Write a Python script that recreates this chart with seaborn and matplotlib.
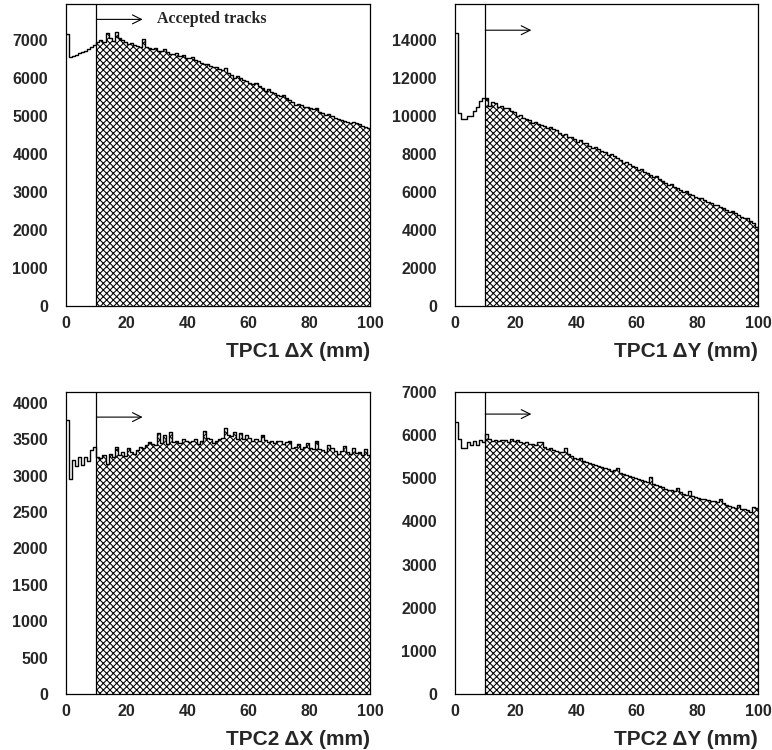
import numpy as np
import pandas as pd
import matplotlib
matplotlib.use("Agg")
import matplotlib.pyplot as plt
import seaborn as sns

# ---------------- data (counts per 1 mm bin, 0..100 mm) ----------------
bin_edges = list(range(0, 101))
cut_mm = 10

tpc1_dx = [7150, 6560, 6580, 6620, 6660, 6680, 6720, 6760, 6820, 6880,
           6940, 6990, 6950, 7180, 7060, 6980, 7220, 7050, 7000, 6960,
           6900, 6920, 6880, 6850, 6830, 7030, 6820, 6780, 6760, 6800,
           6700, 6710, 6760, 6680, 6640, 6630, 6660, 6590, 6620, 6520,
           6540, 6560, 6480, 6460, 6400, 6360, 6380, 6330, 6300, 6280,
           6230, 6210, 6260, 6130, 6080, 6010, 6050, 5990, 5960, 5920,
           5880, 5850, 5860, 5800, 5740, 5660, 5700, 5640, 5600, 5560,
           5520, 5560, 5480, 5420, 5380, 5300, 5330, 5280, 5250, 5230,
           5210, 5180, 5200, 5120, 5080, 5030, 5050, 4990, 4960, 4930,
           4900, 4880, 4850, 4830, 4850, 4810, 4780, 4750, 4720, 4680]

tpc1_dy = [14350, 10150, 9850, 9860, 10000, 10000, 10260, 10500, 10800, 10950,
           10950, 10550, 10750, 10700, 10500, 10550, 10400, 10400, 10250, 10200,
           9980, 10050, 9900, 9850, 9780, 9630, 9700, 9560, 9520, 9480,
           9370, 9420, 9300, 9250, 9100, 9010, 9050, 8900, 8880, 8800,
           8660, 8720, 8600, 8560, 8450, 8310, 8350, 8250, 8180, 8100,
           7960, 8000, 7880, 7800, 7700, 7520, 7580, 7450, 7380, 7300,
           7160, 7200, 7080, 7000, 6900, 6810, 6850, 6700, 6600, 6500,
           6370, 6400, 6280, 6200, 6100, 6020, 6050, 5920, 5850, 5750,
           5670, 5700, 5580, 5500, 5400, 5310, 5320, 5200, 5150, 5050,
           4960, 4980, 4880, 4800, 4700, 4610, 4620, 4450, 4350, 4150]

tpc2_dx = [3760, 2960, 3220, 3130, 3250, 3150, 3260, 3200, 3350, 3400,
           3260, 3240, 3290, 3160, 3300, 3250, 3400, 3280, 3330, 3270,
           3380, 3330, 3300, 3350, 3400, 3380, 3420, 3460, 3440, 3420,
           3580, 3450, 3560, 3430, 3600, 3460, 3480, 3450, 3500, 3470,
           3460, 3480, 3500, 3440, 3480, 3620, 3520, 3500, 3450, 3480,
           3500, 3520, 3660, 3560, 3540, 3600, 3510, 3580, 3500, 3560,
           3520, 3470, 3500, 3480, 3560, 3490, 3460, 3480, 3450, 3470,
           3470, 3440, 3460, 3470, 3380, 3400, 3440, 3370, 3400, 3450,
           3380, 3360, 3480, 3370, 3350, 3330, 3420, 3380, 3340, 3300,
           3340, 3410, 3330, 3300, 3380, 3310, 3320, 3290, 3360, 3290]

tpc2_dy = [6300, 5920, 5700, 5700, 5830, 5780, 5870, 5760, 5890, 5830,
           6020, 5900, 5870, 5880, 5860, 5890, 5880, 5840, 5900, 5860,
           5880, 5840, 5820, 5840, 5790, 5790, 5760, 5850, 5830, 5730,
           5680, 5700, 5660, 5640, 5620, 5600, 5700, 5560, 5520, 5480,
           5440, 5470, 5400, 5380, 5350, 5330, 5300, 5280, 5260, 5230,
           5210, 5180, 5200, 5240, 5130, 5095, 5080, 5060, 5030, 5000,
           4980, 4960, 4940, 4910, 5040, 4860, 4840, 4820, 4800, 4760,
           4740, 4720, 4700, 4780, 4680, 4630, 4610, 4700, 4590, 4560,
           4550, 4530, 4520, 4500, 4480, 4470, 4440, 4510, 4420, 4390,
           4360, 4340, 4310, 4380, 4280, 4280, 4260, 4230, 4340, 4300]

panel_titles = ["TPC1 \u0394X (mm)", "TPC1 \u0394Y (mm)",
                "TPC2 \u0394X (mm)", "TPC2 \u0394Y (mm)"]
panel_values = [tpc1_dx, tpc1_dy, tpc2_dx, tpc2_dy]
panel_ymax = [7950, 15900, 4150, 7000]
panel_yticks = [list(range(0, 7001, 1000)), list(range(0, 14001, 2000)),
                list(range(0, 4001, 500)), list(range(0, 7001, 1000))]
xticks = [0, 20, 40, 60, 80, 100]
arrow_y = [7545, 14520, 3805, 6488]
arrow_end = 25.2
label_text = "Accepted tracks"

# ---------------- style ----------------
sns.set_theme(style="white")
plt.rcParams["font.family"] = ["Liberation Sans", "DejaVu Sans"]
plt.rcParams["font.weight"] = "bold"
plt.rcParams["hatch.linewidth"] = 0.75
plt.rcParams["hatch.color"] = "black"

fig = plt.figure(figsize=(7.72, 7.5), dpi=100)
W, H = 772, 750
boxes = [(66, 4, 370, 306), (455, 4, 758, 306),
         (66, 392, 370, 694), (455, 392, 758, 694)]

centers = np.arange(0.5, 100.5, 1.0)
for i, (l, t, r, b) in enumerate(boxes):
    ax = fig.add_axes([l / W, 1 - b / H, (r - l) / W, (b - t) / H])
    vals = np.array(panel_values[i], dtype=float)
    df = pd.DataFrame({"x": centers, "w": vals})
    acc = df[df["x"] >= cut_mm]

    # hatched accepted region
    n_before = len(ax.collections)
    sns.histplot(data=acc, x="x", weights="w", bins=bin_edges, element="step",
                 fill=True, ax=ax, color="white", alpha=1.0, linewidth=0)
    for coll in ax.collections[n_before:]:
        coll.set_facecolor("white")
        coll.set_edgecolor("black")
        coll.set_hatch("xxxxx")
        coll.set_linewidth(0)

    # full outline
    sns.histplot(data=df, x="x", weights="w", bins=bin_edges, element="step",
                 fill=False, ax=ax, color="black", linewidth=1.0)

    ax.axvline(cut_mm, color="black", linewidth=0.9)
    ax.annotate("", xy=(arrow_end, arrow_y[i]), xytext=(cut_mm, arrow_y[i]),
                arrowprops=dict(arrowstyle="->", lw=0.8, color="black",
                                shrinkA=0, shrinkB=0, mutation_scale=16))
    if i == 0:
        ax.text(30, arrow_y[i], label_text, ha="left", va="center",
                fontsize=11.5, fontweight="bold",
                family=["Liberation Serif", "DejaVu Serif"])

    ax.set_xlim(0, 100)
    ax.set_ylim(0, panel_ymax[i])
    ax.set_xticks(xticks)
    ax.set_xticklabels([str(v) for v in xticks])
    ax.set_yticks(panel_yticks[i])
    ax.set_yticklabels([str(v) for v in panel_yticks[i]])
    ax.tick_params(axis="both", length=0, labelsize=11.5)
    ax.tick_params(axis="x", pad=7)
    ax.tick_params(axis="y", pad=13)
    for lab in ax.get_xticklabels() + ax.get_yticklabels():
        lab.set_fontweight("bold")
    ax.set_ylabel("")
    ax.set_xlabel(panel_titles[i], fontsize=15, fontweight="bold",
                  loc="right", labelpad=8)
    for s in ax.spines.values():
        s.set_color("black")
        s.set_linewidth(0.9)
        s.set_visible(True)
    ax.grid(False)

fig.savefig("out.png", dpi=100)
